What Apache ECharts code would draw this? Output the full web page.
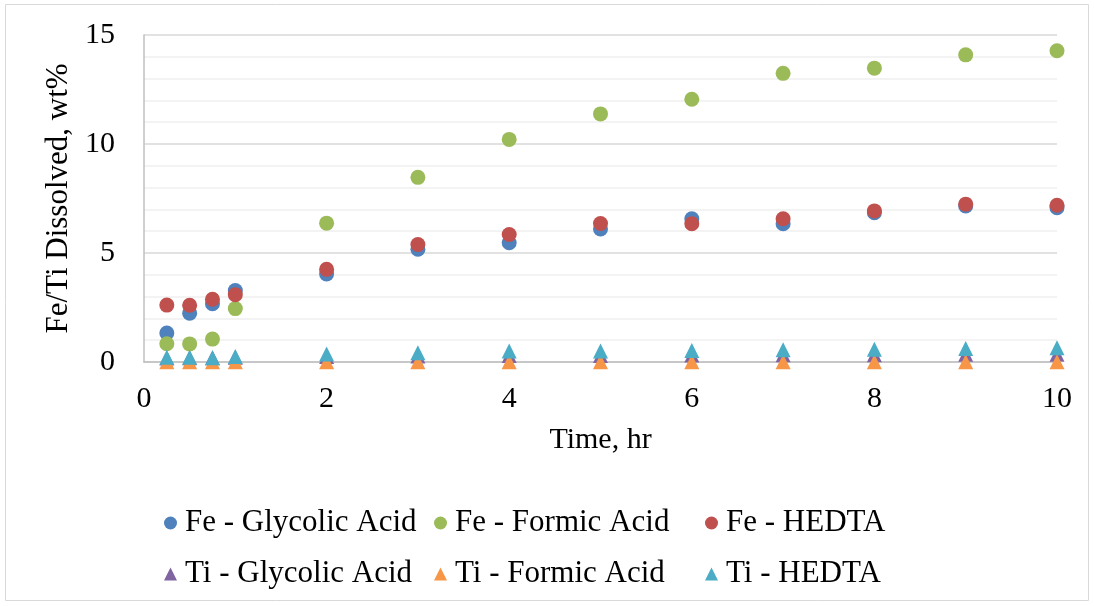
<!DOCTYPE html>
<html>
<head>
<meta charset="utf-8">
<title>Fe/Ti Dissolved vs Time</title>
<script src="https://cdn.jsdelivr.net/npm/echarts@6/dist/echarts.min.js"></script>
<style>
  html, body { margin: 0; padding: 0; background: #ffffff; }
  #chart { width: 1094px; height: 606px; }
</style>
</head>
<body>
<div id="chart"></div>
<script>
// Sampling times (hr)
const times = [0.25, 0.5, 0.75, 1, 2, 3, 4, 5, 6, 7, 8, 9, 10];

// Dissolved amounts, wt%
const feGlycolic = [1.33, 2.24, 2.67, 3.28, 4.04, 5.17, 5.47, 6.10, 6.57, 6.34, 6.85, 7.16, 7.08];
const feFormic   = [0.84, 0.83, 1.05, 2.45, 6.37, 8.47, 10.21, 11.38, 12.05, 13.24, 13.48, 14.09, 14.28];
const feHedta    = [2.61, 2.60, 2.88, 3.09, 4.25, 5.39, 5.85, 6.35, 6.34, 6.57, 6.93, 7.24, 7.19];
const tiGlycolic = [0.18, 0.20, 0.20, 0.22, 0.25, 0.28, 0.30, 0.30, 0.32, 0.33, 0.33, 0.35, 0.35];
const tiFormic   = [0.01, 0.01, 0.01, 0.01, 0.01, 0.01, 0.01, 0.01, 0.01, 0.01, 0.01, 0.01, 0.01];
const tiHedta    = [0.22, 0.22, 0.20, 0.25, 0.37, 0.43, 0.50, 0.50, 0.53, 0.56, 0.59, 0.62, 0.65];

// Axis ticks
const xTicks = [0, 2, 4, 6, 8, 10];
const yTicks = [0, 5, 10, 15];

const FONT = "'Liberation Serif', 'Times New Roman', serif";

const seriesDefs = [
  { name: 'Fe - Glycolic Acid', values: feGlycolic, color: '#4f81bd', symbol: 'circle' },
  { name: 'Fe - Formic Acid',   values: feFormic,   color: '#9bbb59', symbol: 'circle' },
  { name: 'Fe - HEDTA',         values: feHedta,    color: '#c0504d', symbol: 'circle' },
  { name: 'Ti - Glycolic Acid', values: tiGlycolic, color: '#8064a2', symbol: 'triangle' },
  { name: 'Ti - Formic Acid',   values: tiFormic,   color: '#f79646', symbol: 'triangle' },
  { name: 'Ti - HEDTA',         values: tiHedta,    color: '#4bacc6', symbol: 'triangle' }
];

const series = seriesDefs.map(function (s) {
  return {
    name: s.name,
    type: 'scatter',
    symbol: s.symbol,
    symbolSize: 15,
    itemStyle: { color: s.color, opacity: 1 },
    emphasis: { disabled: true },
    data: times.map(function (t, i) { return [t, s.values[i]]; })
  };
});

// Legend laid out as three columns, two rows each
function legendColumn(left, names) {
  return {
    orient: 'vertical',
    left: left,
    top: 502,
    itemWidth: 13,
    itemHeight: 13,
    itemGap: 19,
    selectedMode: false,
    textStyle: { fontFamily: FONT, fontSize: 31, lineHeight: 32, color: '#000000', padding: [0, 0, 0, 3] },
    data: names.map(function (n) {
      const def = seriesDefs.find(function (d) { return d.name === n; });
      return { name: n, icon: def.symbol };
    })
  };
}

const option = {
  animation: false,
  backgroundColor: '#ffffff',
  graphic: [{
    type: 'rect',
    shape: { x: 5.5, y: 4.5, width: 1083, height: 596 },
    style: { fill: 'none', stroke: '#d9d9d9', lineWidth: 1 },
    silent: true
  }],
  grid: { left: 144, right: 37, top: 35, bottom: 244, containLabel: false },
  legend: [
    legendColumn(159, ['Fe - Glycolic Acid', 'Ti - Glycolic Acid']),
    legendColumn(429, ['Fe - Formic Acid', 'Ti - Formic Acid']),
    legendColumn(700, ['Fe - HEDTA', 'Ti - HEDTA'])
  ],
  xAxis: {
    type: 'value',
    min: xTicks[0],
    max: xTicks[xTicks.length - 1],
    interval: xTicks[1] - xTicks[0],
    name: 'Time, hr',
    nameLocation: 'middle',
    nameGap: 63,
    nameTextStyle: { fontFamily: FONT, fontSize: 30, color: '#000000' },
    axisLine: { show: true, lineStyle: { color: '#bfbfbf', width: 1.5 } },
    axisTick: { show: false },
    splitLine: { show: false },
    axisLabel: { fontFamily: FONT, fontSize: 30, color: '#000000', margin: 22 }
  },
  yAxis: {
    type: 'value',
    min: yTicks[0],
    max: yTicks[yTicks.length - 1],
    interval: yTicks[1] - yTicks[0],
    name: 'Fe/Ti Dissolved, wt%',
    nameLocation: 'middle',
    nameGap: 68,
    nameTextStyle: { fontFamily: FONT, fontSize: 31, color: '#000000' },
    axisLine: { show: true, lineStyle: { color: '#bfbfbf', width: 1.5 } },
    axisTick: { show: false },
    axisLabel: { fontFamily: FONT, fontSize: 30, color: '#000000', margin: 29 },
    splitLine: { show: true, lineStyle: { color: '#d9d9d9', width: 1.5 } },
    minorTick: { show: false, splitNumber: 5 },
    minorSplitLine: { show: true, lineStyle: { color: '#f0f0f0', width: 1.5 } }
  },
  series: series
};

const chart = echarts.init(document.getElementById('chart'), null, { renderer: 'canvas' });
chart.setOption(option);
</script>
</body>
</html>
